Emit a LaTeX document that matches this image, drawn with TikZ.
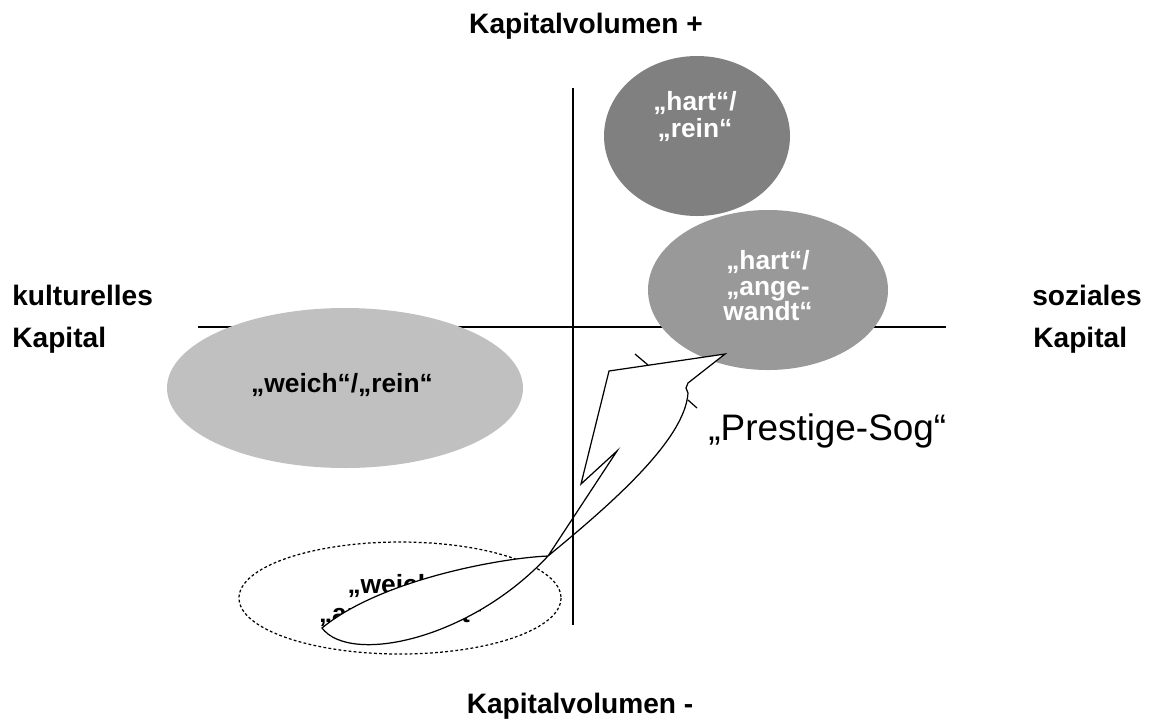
\documentclass[tikz,border=0pt]{standalone}
\usepackage{fontspec}
\setmainfont{Liberation Sans}
\begin{document}
\begin{tikzpicture}[x=0.02cm,y=-0.02cm,
  axis/.style={line width=0.75pt,black},
  blob/.style={draw=none},
  axlabel/.style={font=\fontsize{16}{19}\selectfont\bfseries,inner sep=0pt},
  inlabel/.style={font=\fontsize{15}{18}\selectfont\bfseries,inner sep=0pt,anchor=base},
  arrowshape/.style={draw=black,line width=0.7pt,fill=white,line join=miter},
  tick/.style={draw=black,line width=0.7pt}]
\useasboundingbox (0,0) rectangle (1149,718);
% horizontal axis (under ellipses)
\coordinate (hL) at (198,327);
\coordinate (hR) at (946,327);
\draw[axis] (hL) -- (hR);
% ellipses
\fill[color={rgb,255:red,128;green,128;blue,128}] (697,136) ellipse [x radius=93, y radius=80];
\fill[color={rgb,255:red,153;green,153;blue,153}] (768,290) ellipse [x radius=120, y radius=80];
\fill[color={rgb,255:red,192;green,192;blue,192}] (345,388) ellipse [x radius=178, y radius=80];
\draw[line width=0.7pt,dash pattern=on 1.6pt off 1.3pt] (400,598) ellipse [x radius=161, y radius=56];
% texts in ellipses
\node[inlabel,white] (hr1) at (695,110) {„hart“/};
\node[inlabel,white] (hr2) at (695,137) {„rein“};
\node[inlabel,white] (ha1) at (768,269) {„hart“/};
\node[inlabel,white] (ha2) at (768,295) {„ange-};
\node[inlabel,white] (ha3) at (768,320) {wandt“};
\node[inlabel] (wr) at (342,392) {„weich“/„rein“};
\node[inlabel] (wa1) at (401,593) {„weich“/};
\node[inlabel] (wa2) at (401,622) {„angewandt“};
% arrow shape
\coordinate (tip) at (725,354);
\coordinate (c1) at (609,371);
\coordinate (c2) at (581,484);
\coordinate (c3) at (617,451);
\coordinate (x) at (548,556);
\coordinate (lt) at (322,628);
\coordinate (r1) at (688,393);
\coordinate (r2) at (686,388);
\coordinate (r3) at (688,383);
\draw[arrowshape] (tip) -- (c1) -- (c2) -- (c3) -- (x)
  .. controls (500,558) and (380,580) .. (lt)
  .. controls (350,665) and (470,640) .. (x)
  .. controls (610,505) and (685,440) .. (r1) -- (r2) -- (r3) -- cycle;
\draw[tick] (635,354) -- (648,365);
\draw[tick] (688,400) -- (697,408);
% vertical axis (on top)
\coordinate (vT) at (573,88);
\coordinate (vB) at (573,625);
\draw[axis] (vT) -- (vB);
% axis labels
\node[axlabel,anchor=base] (kvp) at (586,33) {Kapitalvolumen +};
\node[axlabel,anchor=base] (kvm) at (580,713) {Kapitalvolumen -};
\node[axlabel,anchor=base west] (ku1) at (12,305) {kulturelles};
\node[axlabel,anchor=base west] (ku2) at (12,347) {Kapital};
\node[axlabel,anchor=base west] (so1) at (1032,305) {soziales};
\node[axlabel,anchor=base west] (so2) at (1033,347) {Kapital};
\node[font=\fontsize{21}{25}\selectfont,inner sep=0pt,anchor=base west] (ps) at (708,440) {„Prestige-Sog“};
\end{tikzpicture}
\end{document}
